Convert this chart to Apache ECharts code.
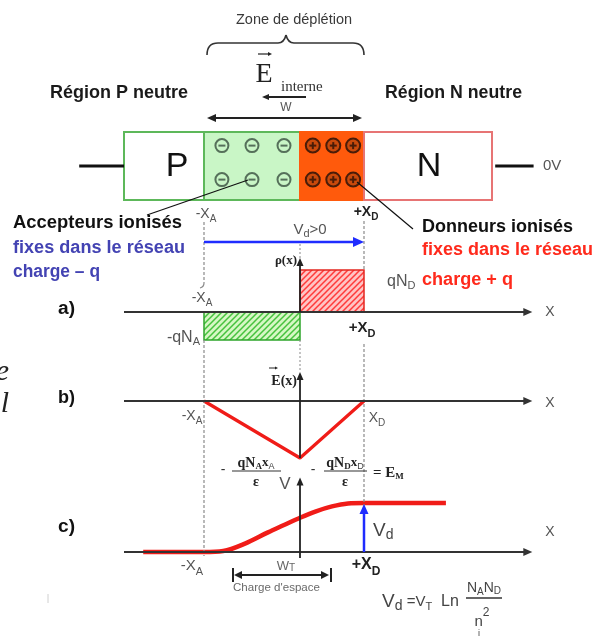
<!DOCTYPE html>
<html>
<head>
<meta charset="utf-8">
<script src="https://cdn.jsdelivr.net/npm/echarts/dist/echarts.min.js"></script>
<style>
  html, body { margin: 0; padding: 0; background: #fff; }
  #c { width: 600px; height: 643px; }
</style>
</head>
<body>
<div id="c"></div>
<script>
// ---------------- junction data (length unit arbitrary, junction at x = 0) ----------------
const xA = 1.5;                       // depletion edge on the P side (-xA)
const xD = 1.0;                       // depletion edge on the N side (+xD)
const barEnds = [-2.75, 3.0];         // outer ends of the P and N bars
const wireLeft = [-3.45, -2.75];
const wireRight = [3.05, 3.65];
const axisSpan = [-2.75, 3.63];       // extent of the x axes of a), b), c)

// bar regions: name, from, to
const regionNames = ['P', 'depP', 'depN', 'N'];
const regionFrom = [barEnds[0], -xA, 0, xD];
const regionTo = [-xA, 0, xD, barEnds[1]];

// fixed ions inside the depletion zone (row 0 = upper, row 1 = lower)
const acceptorX = [-1.22, -0.75, -0.25];
const donorX = [0.2, 0.52, 0.83];
const ionRows = [0.2, 0.7];

// a) charge density, in units of qNA
const rhoFrom = [-xA, 0];
const rhoTo = [0, xD];
const rhoValue = [-1.0, 1.5];         // -qNA , +qND

// b) electric field, in units of |EM|
const fieldX = [-1.5, 0, 1.0];
const fieldY = [0, -1, 0];

// c) electrostatic potential, in units of Vd
const potX = [-2.45, -1.5, -1.2, -0.86, -0.5, -0.25, 0, 0.25, 0.5, 0.75, 1.0, 2.28];
const potY = [0, 0, 0.02, 0.17, 0.40, 0.55, 0.70, 0.83, 0.93, 0.99, 1.0, 1.0];
const Vd = 1.0;

// ---------------- styles ----------------
const SANS = '"Liberation Sans", Arial, sans-serif';
const SERIF = '"Liberation Serif", "Times New Roman", serif';
const GREEN = '#5db85a';
const RED = '#f01c18';
const BLUE = '#1f2cff';
const GUIDE = '#8a8a8a';

function hatch(bg, fg) {
  const c = document.createElement('canvas');
  c.width = c.height = 6;
  const g = c.getContext('2d');
  g.fillStyle = bg; g.fillRect(0, 0, 6, 6);
  g.strokeStyle = fg; g.lineWidth = 1.5;
  g.beginPath();
  g.moveTo(-1, 7); g.lineTo(7, -1);
  g.moveTo(-4, 4); g.lineTo(4, -4);
  g.moveTo(2, 10); g.lineTo(10, 2);
  g.stroke();
  return { image: c, repeat: 'repeat' };
}

const regionStyle = {
  P:    { fill: '#ffffff', stroke: GREEN, lineWidth: 2 },
  depP: { fill: '#c9f6c6', stroke: GREEN, lineWidth: 2 },
  depN: { fill: '#ff5a0c', stroke: '#ff5a0c', lineWidth: 2 },
  N:    { fill: '#ffffff', stroke: '#e77474', lineWidth: 2 }
};
const rhoStyle = [
  { fill: hatch('#d6f7c4', '#46c23e'), stroke: '#2ea52a', lineWidth: 1.5 },
  { fill: hatch('#ffc4c4', '#ff3a3a'), stroke: '#e4261f', lineWidth: 1.5 }
];

// ---------------- chart ----------------
const chart = echarts.init(document.getElementById('c'), null, { renderer: 'canvas' });

const panels = [
  { top: 132, height: 68, min: 0, max: 1, inverse: true },   // device bar
  { top: 242, height: 112, min: -1.5, max: 2.5 },            // a) rho(x)
  { top: 344, height: 142.5, min: -1.5, max: 1.0 },          // b) E(x)
  { top: 473.6, height: 107.8, min: -0.6, max: 1.6 }         // c) V(x)
];

const ionData = [];
ionRows.forEach(r => {
  acceptorX.forEach(x => ionData.push([x, r, -1]));
  donorX.forEach(x => ionData.push([x, r, 1]));
});

chart.setOption({
  animation: false,
  backgroundColor: '#ffffff',
  grid: panels.map(p => ({ left: 0, right: 0, top: p.top, height: p.height })),
  xAxis: panels.map((p, i) => ({ type: 'value', gridIndex: i, min: -4.6875, max: 4.6875, show: false })),
  yAxis: panels.map((p, i) => ({ type: 'value', gridIndex: i, min: p.min, max: p.max, inverse: !!p.inverse, show: false })),
  series: [
    {
      type: 'custom', xAxisIndex: 0, yAxisIndex: 0, z: 3,
      data: regionNames.map((n, i) => [regionFrom[i], regionTo[i], i]),
      renderItem(params, api) {
        const a = api.coord([api.value(0), 0]);
        const b = api.coord([api.value(1), 1]);
        return { type: 'rect', shape: { x: a[0], y: a[1], width: b[0] - a[0], height: b[1] - a[1] },
                 style: regionStyle[regionNames[api.value(2)]] };
      }
    },
    {
      type: 'custom', xAxisIndex: 0, yAxisIndex: 0, z: 4,
      data: ionData,
      renderItem(params, api) {
        const c = api.coord([api.value(0), api.value(1)]);
        const neg = api.value(2) < 0;
        const col = neg ? '#55705a' : '#4a1c08';
        const r = neg ? 6.5 : 7;
        const ch = [
          { type: 'circle', shape: { cx: c[0], cy: c[1], r }, style: { fill: neg ? 'rgba(0,0,0,0)' : '#c94a0c', stroke: col, lineWidth: 2 } },
          { type: 'line', shape: { x1: c[0] - 3.5, y1: c[1], x2: c[0] + 3.5, y2: c[1] }, style: { stroke: col, lineWidth: 2 } }
        ];
        if (!neg) ch.push({ type: 'line', shape: { x1: c[0], y1: c[1] - 3.5, x2: c[0], y2: c[1] + 3.5 }, style: { stroke: col, lineWidth: 2 } });
        return { type: 'group', children: ch };
      }
    },
    {
      type: 'custom', xAxisIndex: 1, yAxisIndex: 1, z: 3,
      data: rhoValue.map((v, i) => [rhoFrom[i], rhoTo[i], v, i]),
      renderItem(params, api) {
        const a = api.coord([api.value(0), 0]);
        const b = api.coord([api.value(1), api.value(2)]);
        return { type: 'rect',
                 shape: { x: a[0], y: Math.min(a[1], b[1]), width: b[0] - a[0], height: Math.abs(b[1] - a[1]) },
                 style: rhoStyle[api.value(3)] };
      }
    },
    {
      type: 'line', xAxisIndex: 2, yAxisIndex: 2, z: 5,
      data: fieldX.map((x, i) => [x, fieldY[i]]),
      symbol: 'none', lineStyle: { color: RED, width: 3.2 }
    },
    {
      type: 'line', xAxisIndex: 3, yAxisIndex: 3, z: 5,
      data: potX.map((x, i) => [x, potY[i]]),
      smooth: 0.35, symbol: 'none', lineStyle: { color: RED, width: 4.5 }
    }
  ]
});

// ---------------- annotations ----------------
const px = x => chart.convertToPixel({ xAxisIndex: 0 }, x);
const py = (k, v) => chart.convertToPixel({ yAxisIndex: k }, v);

const meas = document.createElement('canvas').getContext('2d');
function tw(t, f) { meas.font = f; return meas.measureText(t).width; }
function txt(t, x, y, f, fill, align) {
  return { type: 'text', x, y, z: 20, silent: true,
           style: { text: t, font: f, fill: fill || '#222', textAlign: align || 'left', textVerticalAlign: 'middle',
                    align: align || 'left', verticalAlign: 'middle' } };
}
function fitText(t, x, y, width, f, fill) {
  const el = txt(t, 0, 0, f, fill, 'left');
  el.x = x; el.y = y; el.scaleX = width / tw(t, f);
  return el;
}
// sequence of text runs, each [text, font, color, dy]
function runs(parts, x, y, align) {
  const total = parts.reduce((s, p) => s + tw(p[0], p[1]), 0);
  let cx = align === 'center' ? x - total / 2 : align === 'right' ? x - total : x;
  return parts.map(p => {
    const el = txt(p[0], cx, y + (p[3] || 0), p[1], p[2], 'left');
    cx += tw(p[0], p[1]);
    return el;
  });
}
function line(x1, y1, x2, y2, color, w, dash) {
  return { type: 'line', z: 15, silent: true, shape: { x1, y1, x2, y2 },
           style: { stroke: color, lineWidth: w, lineDash: dash || null } };
}
function curve(x1, y1, cx, cy, x2, y2, color, w) {
  return { type: 'bezierCurve', z: 15, silent: true, shape: { x1, y1, x2, y2, cpx1: cx, cpy1: cy },
           style: { stroke: color, lineWidth: w, fill: null } };
}
function arrow(x1, y1, x2, y2, o) {
  o = Object.assign({ color: '#222', width: 2, head: 9, hw: 4, start: false, end: true, z: 15 }, o);
  const dx = x2 - x1, dy = y2 - y1, L = Math.hypot(dx, dy), ux = dx / L, uy = dy / L;
  let a1 = x1, b1 = y1, a2 = x2, b2 = y2;
  if (o.end) { a2 -= ux * o.head * 0.7; b2 -= uy * o.head * 0.7; }
  if (o.start) { a1 += ux * o.head * 0.7; b1 += uy * o.head * 0.7; }
  const els = [{ type: 'line', z: o.z, silent: true, shape: { x1: a1, y1: b1, x2: a2, y2: b2 }, style: { stroke: o.color, lineWidth: o.width } }];
  const head = (tx, ty, vx, vy) => ({ type: 'polygon', z: o.z, silent: true,
    shape: { points: [[tx, ty], [tx - vx * o.head - vy * o.hw, ty - vy * o.head + vx * o.hw], [tx - vx * o.head + vy * o.hw, ty - vy * o.head - vx * o.hw]] },
    style: { fill: o.color } });
  if (o.end) els.push(head(x2, y2, ux, uy));
  if (o.start) els.push(head(x1, y1, -ux, -uy));
  return els;
}

const g = [];
const XL = px(-xA), X0 = px(0), XR = px(xD);
const yBar = py(0, 0.5);
const yRho0 = py(1, 0), yE0 = py(2, 0), yV0 = py(3, 0);

// --- device bar ---
g.push(line(px(wireLeft[0]), yBar, px(wireLeft[1]), yBar, '#111', 3));
g.push(line(px(wireRight[0]), yBar, px(wireRight[1]), yBar, '#111', 3));
g.push(txt('P', (px(barEnds[0]) + XL) / 2 + 13, yBar + 1, '34px ' + SANS, '#111', 'center'));
g.push(txt('N', (XR + px(barEnds[1])) / 2 + 1, yBar + 1, '34px ' + SANS, '#111', 'center'));
g.push(txt('0V', 543, yBar, '15px ' + SANS, '#555', 'left'));

// --- depletion zone header ---
const bx = (XL + XR) / 2 + 2;
g.push(txt('Zone de déplétion', bx + 8, 20, '14.5px ' + SANS, '#3a3a3a', 'center'));
g.push(curve(XL + 3, 55, XL + 3, 43, XL + 14, 43, '#333', 1.6));
g.push(line(XL + 14, 43, bx - 8, 43, '#333', 1.6));
g.push(curve(bx - 8, 43, bx - 2, 43, bx, 35, '#333', 1.6));
g.push(curve(bx, 35, bx + 2, 43, bx + 8, 43, '#333', 1.6));
g.push(line(bx + 8, 43, XR - 11, 43, '#333', 1.6));
g.push(curve(XR - 11, 43, XR, 43, XR, 55, '#333', 1.6));
g.push(txt('E', 264, 75, '28px ' + SERIF, '#222', 'center'));
g.push(...arrow(258, 54, 272, 54, { width: 1.2, head: 4, hw: 2 }));
g.push(txt('interne', 281, 87, '15px ' + SERIF, '#333', 'left'));
g.push(...arrow(306, 97, 262, 97, { width: 1.8, head: 7, hw: 3 }));
g.push(txt('W', 286, 108, '12px ' + SANS, '#555', 'center'));
g.push(...arrow(XL + 3, 118, XR - 2, 118, { width: 2, head: 9, hw: 4, start: true }));
g.push(fitText('Région P neutre', 50, 93, 138, 'bold 18px ' + SANS, '#1a1a1a'));
g.push(fitText('Région N neutre', 385, 93, 137, 'bold 18px ' + SANS, '#1a1a1a'));

// --- ion labels ---
g.push(line(147, 215, 248, 180, '#111', 1.2));
g.push(line(357, 182, 413, 229, '#111', 1.2));
g.push(fitText('Accepteurs ionisés', 13, 223, 169, 'bold 18px ' + SANS, '#111'));
g.push(fitText('fixes dans le réseau', 13, 248, 172, 'bold 18px ' + SANS, '#4343b3'));
g.push(fitText('charge – q', 13, 272, 87, 'bold 18px ' + SANS, '#4343b3'));
g.push(fitText('Donneurs ionisés', 422, 227, 151, 'bold 18px ' + SANS, '#111'));
g.push(fitText('fixes dans le réseau', 422, 250, 171, 'bold 18px ' + SANS, '#ff2a1c'));
g.push(fitText('charge + q', 422, 280, 91, 'bold 18px ' + SANS, '#ff2a1c'));

// --- guide lines ---
g.push(line(XL, 222, XL, 283, GUIDE, 1.2, [3, 2]));
g.push(curve(XL, 283, XL, 287, XL - 4, 288, GUIDE, 1.2));
g.push(line(XL, py(1, rhoValue[0]), XL, 556, GUIDE, 1.2, [3, 2]));
g.push(line(XR, 221, XR, py(1, rhoValue[1]), GUIDE, 1.2, [3, 2]));
g.push(line(XR, 344, XR, yV0, GUIDE, 1.2, [3, 2]));
g.push(line(X0, 244, X0, 258, GUIDE, 1, [2, 2]));
g.push(line(X0, py(1, rhoValue[0]), X0, 372, GUIDE, 1, [2, 2]));

// --- a) charge density ---
g.push(...arrow(px(axisSpan[0]), yRho0, px(axisSpan[1]), yRho0, { color: '#333', width: 2.2 }));
g.push(...arrow(X0, yRho0, X0, py(1, 1.93), { color: '#222', width: 1.8, head: 8, hw: 3.5 }));
g.push(txt('X', 550, yRho0, '14px ' + SANS, '#555', 'center'));
g.push(fitText('a)', 58, 309, 17, 'bold 18px ' + SANS, '#111'));
g.push(txt('ρ(x)', X0 - 3, 261, 'bold 13px ' + SERIF, '#222', 'right'));
g.push(...runs([['V', '15px ' + SANS, '#555'], ['d', '11px ' + SANS, '#555', 4], ['>0', '15px ' + SANS, '#555']], (XL + XR) / 2 + 26, 230, 'center'));
g.push(...arrow(XL, 242, XR, 242, { color: BLUE, width: 2.5, head: 11, hw: 5 }));
g.push(...runs([['-X', '14px ' + SANS, '#555'], ['A', '10px ' + SANS, '#555', 5]], XL + 2, 214, 'center'));
g.push(...runs([['+X', 'bold 14px ' + SANS, '#222'], ['D', 'bold 10px ' + SANS, '#222', 5]], XR + 2, 212, 'center'));
g.push(...runs([['-X', '14px ' + SANS, '#555'], ['A', '10px ' + SANS, '#555', 5]], XL - 2, 298, 'center'));
g.push(...runs([['+X', 'bold 15px ' + SANS, '#222'], ['D', 'bold 11px ' + SANS, '#222', 6]], XR - 2, 328, 'center'));
g.push(...runs([['qN', '16px ' + SANS, '#555'], ['D', '11px ' + SANS, '#555', 4]], 387, 282, 'left'));
g.push(...runs([['-qN', '16px ' + SANS, '#555'], ['A', '11px ' + SANS, '#555', 4]], XL - 4, 338, 'right'));

// --- b) field ---
g.push(...arrow(px(axisSpan[0]), yE0, px(axisSpan[1]), yE0, { color: '#333', width: 2.2 }));
g.push(...arrow(X0, py(2, -1.0), X0, py(2, 0.51), { color: '#222', width: 1.8, head: 8, hw: 3.5 }));
g.push(txt('X', 550, yE0 + 2, '14px ' + SANS, '#555', 'center'));
g.push(fitText('b)', 58, 398, 17, 'bold 18px ' + SANS, '#111'));
g.push(txt('E(x)', X0 - 3, 381, 'bold 14px ' + SERIF, '#222', 'right'));
g.push(...arrow(X0 - 31, 368, X0 - 22, 368, { width: 1, head: 3, hw: 1.6 }));
g.push(...runs([['-X', '14px ' + SANS, '#555'], ['A', '10px ' + SANS, '#555', 5]], XL - 12, 416, 'center'));
g.push(...runs([['X', '14px ' + SANS, '#555'], ['D', '10px ' + SANS, '#555', 5]], XR + 13, 418, 'center'));
function fracNum(cx, y, l1, l2) {
  return runs([['qN', 'bold 14px ' + SERIF, '#222'], [l1, 'bold 9px ' + SERIF, '#222', 4],
               ['x', 'bold 13px ' + SERIF, '#222'], [l2, '9px ' + SANS, '#444', 4]], cx, y, 'center');
}
g.push(txt('-', 223, 470, '14px ' + SANS, '#333', 'center'));
g.push(...fracNum(256, 463, 'A', 'A'));
g.push(line(232, 471, 281, 471, '#333', 1.2));
g.push(txt('ε', 256, 482, 'bold 14px ' + SERIF, '#222', 'center'));
g.push(txt('-', 313, 470, '14px ' + SANS, '#333', 'center'));
g.push(...fracNum(345, 463, 'D', 'D'));
g.push(line(324, 471, 367, 471, '#333', 1.2));
g.push(txt('ε', 345, 482, 'bold 14px ' + SERIF, '#222', 'center'));
g.push(...runs([['= E', 'bold 15px ' + SERIF, '#222'], ['M', 'bold 9px ' + SERIF, '#222', 4]], 373, 473, 'left'));

// --- c) potential ---
g.push(...arrow(px(axisSpan[0]), yV0, px(axisSpan[1]), yV0, { color: '#333', width: 2.2 }));
g.push(...arrow(X0, py(3, -0.12), X0, py(3, 1.52), { color: '#222', width: 1.8, head: 8, hw: 3.5 }));
g.push(...arrow(XR, yV0, XR, py(3, Vd) + 1, { color: BLUE, width: 2.5, head: 10, hw: 4.5, z: 16 }));
g.push(txt('X', 550, 532, '14px ' + SANS, '#555', 'center'));
g.push(fitText('c)', 58, 527, 17, 'bold 18px ' + SANS, '#111'));
g.push(txt('V', X0 - 15, 484, '17px ' + SANS, '#555', 'center'));
g.push(...runs([['V', '19px ' + SANS, '#444'], ['d', '14px ' + SANS, '#444', 4]], XR + 9, 531, 'left'));
g.push(...runs([['-X', '15px ' + SANS, '#555'], ['A', '11px ' + SANS, '#555', 6]], XL - 12, 566, 'center'));
g.push(...runs([['+X', 'bold 16px ' + SANS, '#222'], ['D', 'bold 12px ' + SANS, '#222', 7]], XR + 2, 565, 'center'));
g.push(...arrow(234, 575, 329, 575, { color: '#222', width: 2, head: 8, hw: 4, start: true }));
g.push(line(233, 568, 233, 582, '#222', 2));
g.push(line(331, 568, 331, 582, '#222', 2));
g.push(...runs([['W', '13px ' + SANS, '#666'], ['T', '10px ' + SANS, '#666', 2]], 286, 566, 'center'));
g.push(fitText("Charge d'espace", 233, 588, 87, '11px ' + SANS, '#6a6a6a'));
g.push(...runs([['V', '19px ' + SANS, '#444'], ['d', '14px ' + SANS, '#444', 4], [' =V', '15px ' + SANS, '#444'],
                ['T', '11px ' + SANS, '#444', 5], ['  Ln', '16px ' + SANS, '#444']], 382, 602, 'left'));
g.push(...runs([['N', '14px ' + SANS, '#444'], ['A', '10px ' + SANS, '#444', 4], ['N', '14px ' + SANS, '#444'], ['D', '10px ' + SANS, '#444', 3]], 484, 588, 'center'));
g.push(line(466, 598, 502, 598, '#333', 1.4));
g.push(...runs([['n', '15px ' + SANS, '#444'], ['2', '12px ' + SANS, '#444', -9]], 482, 622, 'center'));
g.push(txt('i', 479, 634, '9px ' + SANS, '#444', 'center'));

// --- margin fragments of the surrounding page ---
g.push(txt('e', 9, 372, 'italic 30px ' + SERIF, '#222', 'right'));
g.push(txt('l', 9, 404, 'italic 30px ' + SERIF, '#222', 'right'));
g.push(line(48, 594, 48, 603, '#d0d0d0', 1));

chart.setOption({ graphic: { elements: g } });
</script>
</body>
</html>
